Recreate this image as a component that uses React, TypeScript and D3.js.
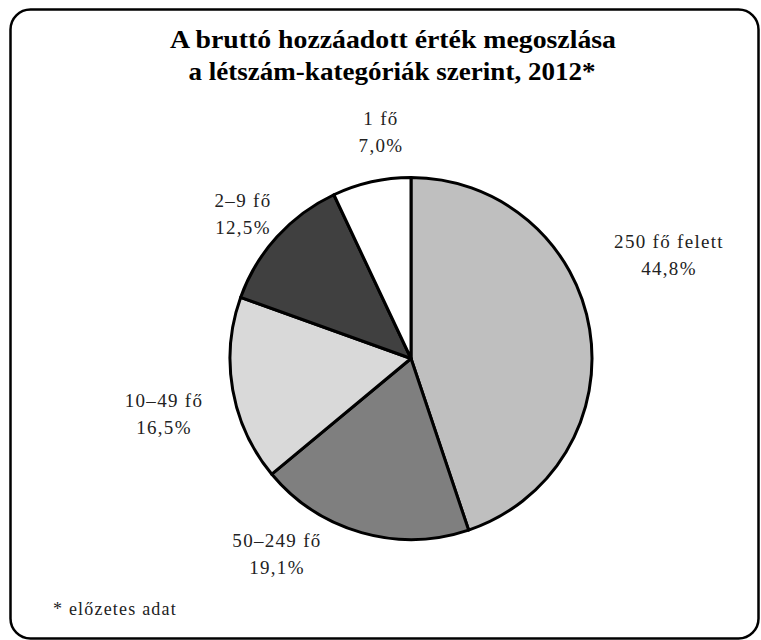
import React from "react";
import * as d3 from "d3";

// ---- data ----
const categories = ["250 fő  felett", "50–249 fő", "10–49 fő", "2–9 fő", "1 fő"];
const values = [44.8, 19.1, 16.5, 12.5, 7.0];
const valueLabels = ["44,8%", "19,1%", "16,5%", "12,5%", "7,0%"];
const sliceColors = ["#bfbfbf", "#7f7f7f", "#d9d9d9", "#404040", "#ffffff"];
const titleLines = ["A bruttó hozzáadott érték megoszlása", "a létszám-kategóriák szerint, 2012*"];
const footnote = "* előzetes adat";

// ---- layout ----
const W = 761;
const H = 640;
const CX = 411;
const CY = 358.5;
const R = 181;
// label anchor offsets (center x, first baseline) relative to pie centre
const labelOffsets: [number, number][] = [
  [258, -110.5],
  [-134, 188.5],
  [-247, 48.5],
  [-168, -151.5],
  [-30, -233.5],
];
const LINE_GAP = 27;
const FONT = "'Liberation Serif', 'Times New Roman', serif";

export default function App() {
  const pie = d3.pie<number>().sort(null).value((d) => d).startAngle(0).endAngle(2 * Math.PI);
  const arcs = pie(values);
  const arc = d3.arc<d3.PieArcDatum<number>>().innerRadius(0).outerRadius(R);

  return (
    <svg
      width={W}
      height={H}
      style={{ position: "absolute", left: 0, top: 0, background: "#fff" }}
      fontFamily={FONT}
    >
      <rect x={10.5} y={9.5} width={748} height={629} rx={20} ry={20} fill="#fff" stroke="#000" strokeWidth={2.5} />
      <text x={393} y={48} textAnchor="middle" fontSize={26} fontWeight="bold" fill="#000" textLength={446} lengthAdjust="spacingAndGlyphs">
        {titleLines[0]}
      </text>
      <text x={392} y={80} textAnchor="middle" fontSize={26} fontWeight="bold" fill="#000" textLength={407} lengthAdjust="spacingAndGlyphs">
        {titleLines[1]}
      </text>
      <g transform={`translate(${CX},${CY})`}>
        {arcs.map((a, i) => (
          <path key={i} d={arc(a) || ""} fill={sliceColors[i]} stroke="#000" strokeWidth={3} strokeLinejoin="round" />
        ))}
        {arcs.map((a, i) => (
          <text key={"l" + i} textAnchor="middle" fontSize={19} fill="#222" letterSpacing={1.3}>
            <tspan x={labelOffsets[i][0]} y={labelOffsets[i][1]}>
              {categories[i]}
            </tspan>
            <tspan x={labelOffsets[i][0]} y={labelOffsets[i][1] + LINE_GAP}>
              {valueLabels[i]}
            </tspan>
          </text>
        ))}
      </g>
      <text x={53} y={615} fontSize={18} fill="#222" letterSpacing={1.2}>
        {footnote}
      </text>
    </svg>
  );
}
